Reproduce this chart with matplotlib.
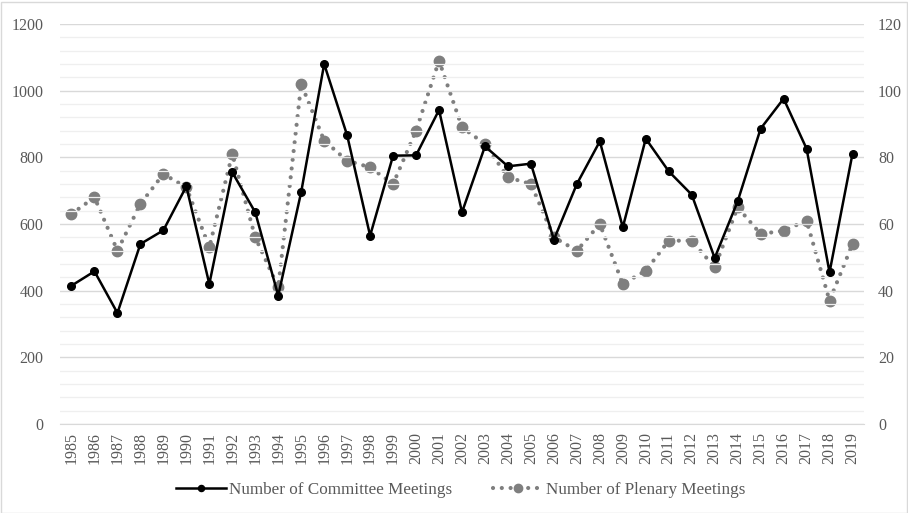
import numpy as np
import matplotlib.pyplot as plt
from matplotlib.patches import Rectangle
from matplotlib.ticker import MultipleLocator

plt.rcParams.update({
    "font.family": ["Liberation Serif", "DejaVu Serif"],
    "font.size": 11,
})

years = list(range(1985, 2020))
committee = [415, 458, 333, 540, 581, 713, 420, 755, 635, 385,
             696, 1080, 866, 565, 805, 806, 942, 635, 833, 773,
             781, 553, 720, 848, 590, 856, 758, 688, 498, 668,
             886, 976, 826, 455, 811]
plenary = [63, 68, 52, 66, 75, 71, 53, 81, 56, 41,
           102, 85, 79, 77, 72, 88, 109, 89, 84, 74,
           72, 56, 52, 60, 42, 46, 55, 55, 47, 65,
           57, 58, 61, 37, 54]

label_c = "Number of Committee Meetings"
label_p = "Number of Plenary Meetings"
txt = "#595959"

fig = plt.figure(figsize=(9.08, 5.13), dpi=100)
ax = fig.add_axes([60 / 908, 1 - 424 / 513, 804 / 908, 400 / 513])
ax2 = ax.twinx()

x = np.arange(len(years))

ax.set_ylim(0, 1200)
ax2.set_ylim(0, 120)
ax.set_xlim(-0.5, len(years) - 0.5)

ax.yaxis.set_major_locator(MultipleLocator(200))
ax.yaxis.set_minor_locator(MultipleLocator(40))
ax2.yaxis.set_major_locator(MultipleLocator(20))
ax.grid(which="major", axis="y", color="#d9d9d9", lw=1.0)
ax.grid(which="minor", axis="y", color="#efefef", lw=0.9)
ax.set_axisbelow(True)

ax2.plot(x, plenary, color="#7f7f7f", lw=3.0, ls=(0, (0.01, 2.1)),
         dash_capstyle="round", marker="o", ms=7.5, label=label_p, zorder=2)
lc, = ax.plot(x, committee, color="black", lw=1.8, marker="o", ms=5.5,
              label=label_c, zorder=3)
ax.set_zorder(ax2.get_zorder() + 1)
ax.patch.set_visible(False)

for a in (ax, ax2):
    for s in a.spines.values():
        s.set_visible(False)
    a.tick_params(axis="y", length=0, labelcolor=txt, labelsize=11.5, pad=12)
    a.tick_params(axis="y", which="minor", length=0)
ax2.tick_params(axis="y", pad=10)
ax.spines["bottom"].set_visible(True)
ax.spines["bottom"].set_color("#d9d9d9")

ax.set_xticks(x)
ax.set_xticklabels([str(y) for y in years], rotation=90)
ax.tick_params(axis="x", length=0, labelcolor=txt, labelsize=11.5, pad=6)

h1, l1 = ax.get_legend_handles_labels()
h2, l2 = ax2.get_legend_handles_labels()
fig.legend(h1 + h2, l1 + l2, loc="center", bbox_to_anchor=(461 / 908, 1 - 490 / 513),
           ncol=2, frameon=False, fontsize=12.3, handlelength=2.9,
           columnspacing=2.4, handletextpad=0.2, markerscale=0.8,
           labelcolor=txt)

fig.patches.append(Rectangle((0.5 / 908, 0.5 / 513), 906 / 908, 511 / 513,
                             transform=fig.transFigure, fill=False,
                             edgecolor="#d9d9d9", lw=1))

fig.savefig("out.png", dpi=100)
